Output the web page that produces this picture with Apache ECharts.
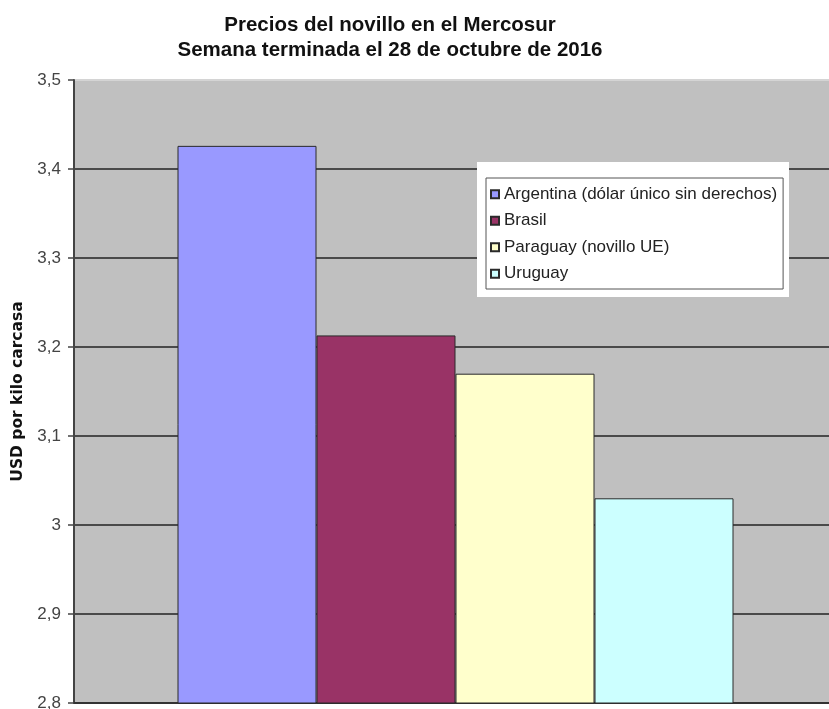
<!DOCTYPE html>
<html>
<head>
<meta charset="utf-8">
<script src="https://cdn.jsdelivr.net/npm/echarts@6/dist/echarts.min.js"></script>
<style>
  html, body { margin: 0; padding: 0; background: #fff; }
  #chart { width: 829px; height: 709px; }
</style>
</head>
<body>
<div id="chart"></div>
<script>
// datos de la semana
var categories = ['Semana'];
var seriesNames = ['Argentina (dólar único sin derechos)', 'Brasil', 'Paraguay (novillo UE)', 'Uruguay'];
var seriesValues = [3.426, 3.213, 3.170, 3.030];
var seriesColors = ['#9999FF', '#993366', '#FFFFCC', '#CCFFFF'];
var yTicks = [2.8, 2.9, 3.0, 3.1, 3.2, 3.3, 3.4, 3.5];

var chart = echarts.init(document.getElementById('chart'));

var series = seriesNames.map(function (name, i) {
  return {
    name: name,
    type: 'bar',
    barWidth: 139,
    barGap: 0,
    itemStyle: { color: seriesColors[i], borderColor: '#2a2a2a', borderWidth: 1 },
    data: [seriesValues[i]]
  };
});

// la linea de 3,5 (borde superior) es mas clara
var splitColors = yTicks.map(function (t, i) {
  return i === yTicks.length - 1 ? '#d4d4d4' : '#4a4a4a';
});

var option = {
  animation: false,
  title: {
    text: 'Precios del novillo en el Mercosur\nSemana terminada el 28 de octubre de 2016',
    left: 385,
    top: 8,
    textAlign: 'center',
    textStyle: {
      fontFamily: 'Liberation Sans, Arial',
      fontSize: 20.5,
      fontWeight: 'bold',
      color: '#111',
      lineHeight: 25
    }
  },
  legend: {
    orient: 'vertical',
    left: 486,
    top: 178,
    data: seriesNames,
    icon: 'rect',
    itemWidth: 8,
    itemHeight: 8,
    itemGap: 8,
    padding: [7, 6, 6, 4],
    backgroundColor: '#fff',
    borderColor: '#555',
    borderWidth: 1,
    textStyle: {
      fontFamily: 'Liberation Sans, Arial',
      fontSize: 17,
      color: '#222',
      lineHeight: 18.5
    }
  },
  graphic: [{
    type: 'rect',
    z: 3,
    shape: { x: 477, y: 162, width: 312, height: 135 },
    style: { fill: '#fff' }
  }],
  grid: {
    left: 74,
    right: -8,
    top: 80,
    bottom: 6,
    outerBoundsMode: 'none',
    show: true,
    backgroundColor: '#C0C0C0',
    borderWidth: 0
  },
  xAxis: {
    type: 'category',
    data: categories,
    axisLine: { lineStyle: { color: '#333', width: 2 } },
    axisTick: { show: false },
    axisLabel: { show: false }
  },
  yAxis: {
    type: 'value',
    min: 2.8,
    max: 3.5,
    interval: 0.1,
    name: 'USD por kilo carcasa',
    nameLocation: 'middle',
    nameGap: 43,
    nameTextStyle: {
      fontFamily: 'DejaVu Sans',
      fontSize: 15.5,
      fontWeight: 'bold',
      color: '#111'
    },
    axisLine: { show: true, lineStyle: { color: '#444', width: 2 } },
    axisTick: { show: true, length: 6, lineStyle: { color: '#444', width: 1.5 } },
    axisLabel: {
      margin: 13,
      fontFamily: 'Liberation Sans, Arial',
      fontSize: 17,
      color: '#444',
      formatter: function (v) {
        return (Math.round(v * 10) / 10).toString().replace('.', ',');
      }
    },
    splitLine: { show: true, lineStyle: { color: splitColors, width: 2 } }
  },
  series: series
};

chart.setOption(option, true);
</script>
</body>
</html>
